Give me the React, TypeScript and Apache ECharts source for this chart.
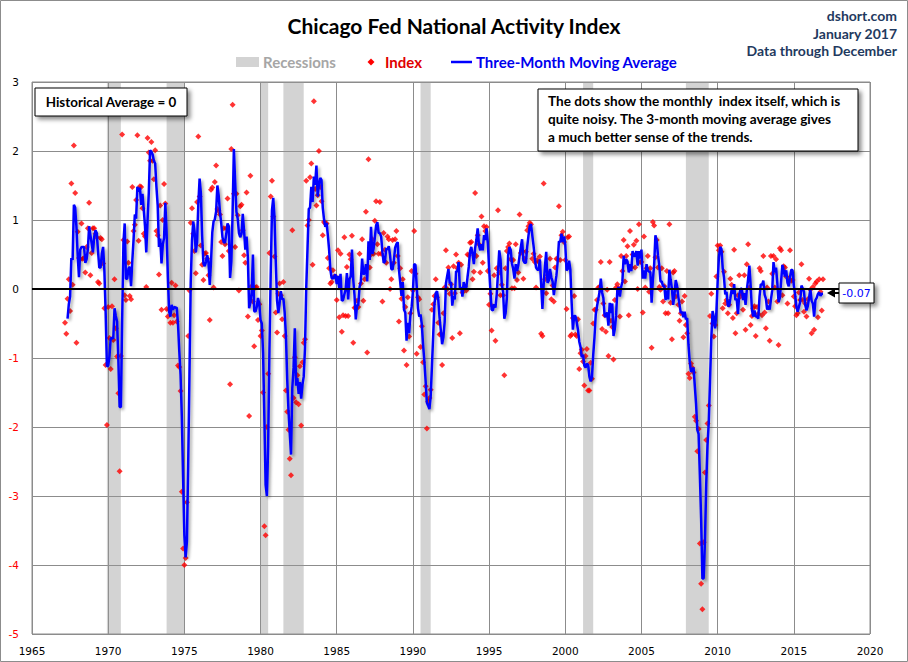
import React, { useEffect, useRef } from "react";
import * as echarts from "echarts";

// Monthly CFNAI index values. Series starts March 1967.
const START_YEAR = 1967;
const START_MONTH = 3;

const index1960s = [
  // 1967 (Mar-Dec)
  -0.49, -0.65, -0.14, 0.14, -0.32, 1.53, 0.06, 2.08, 1.39, -0.78,
  // 1968
  0.83, 0.45, 0.43, 0.95, 0.44, 0.45, 0.24, 0.61, 0.88, 1.25, 0.2, 0.52,
  // 1969
  0.88, 0.88, 0.8, 0.75, 0.1, 0.08, 0.74, 0.72, 0.37, -0.28, -1.1, -1.97,
];

const index1970s = [
  -0.26, -0.71, -1.16, -0.25, -0.74, 0.14, -0.57, -0.98, -1.51, -2.64, -0.97, 2.24,
  0.71, -0.09, -0.16, 0.69, 0.38, -0.1, -0.15, 1.48, 0.84, 0.93, 1.29, 2.23,
  0.7, 1.49, 1.48, 1.17, 0.8, 0.76, 0.03, 2.19, 1.98, 1.86, 2.13, 1.86,
  1.59, 2.01, 0.84, 0.78, 0.21, 1.21, -0.3, 1.0, 1.52, 1.24, -0.29, -0.4,
  -0.3, -0.49, 0.09, -0.49, -0.38, 0.05, -0.47, -1.11, -1.13, -1.48, -2.94, -3.76,
  -4.0, -3.9, -3.09, -0.68, -0.02, 0.96, 1.17, 0.8, 0.55, 0.23, 1.26, 2.21,
  1.34, 0.63, 0.35, 0.13, 0.51, 0.52, 0.44, 0.2, -0.45, 1.44, 1.47, 0.02,
  1.55, 1.79, 1.16, 1.13, 1.08, 0.68, 0.48, 0.88, 0.65, 0.88, 1.31, 0.55,
  -1.38, 2.03, 2.67, 1.38, 0.61, 1.38, 1.07, -0.02, 1.2, 1.22, 0.85, 0.49,
  0.38, 1.4, -0.4, -1.84, 1.64, 0.04, -0.18, -0.83, 0.02, 0.03, -0.45, -0.22,
];

const index1980s = [
  -0.68, -0.6, -1.5, -3.44, -3.57, -2.0, -1.23, 0.52, 1.34, 1.57, 1.05, 0.47,
  -0.34, -0.63, -0.07, 0.08, -0.09, -0.44, 0.1, -0.68, -1.47, -1.78, -2.04, -2.46,
  -2.7, 0.85, -1.58, -0.99, -1.64, -1.25, -1.67, -1.12, -1.98, -1.06, -0.78, -0.73,
  1.57, 0.92, 1.0, 1.62, 1.82, 0.35, 2.72, 1.45, 1.21, 1.36, 2.0, 1.48,
  1.27, 0.78, 0.97, 0.95, 0.95, 0.45, 0.3, 0.08, 0.1, 0.27, 0.18, 0.18,
  -0.16, 0.56, -0.41, 0.51, -0.62, -0.38, 0.75, -0.39, 0.32, -0.39, 0.5, 0.43,
  0.77, -0.78, -0.27, -0.27, -0.17, -0.26, 0.51, 0.08, 0.72, -0.17, 0.14, 1.12,
  -0.92, 1.88, 0.31, 0.5, 0.72, 0.51, 0.99, 1.27, 0.65, 0.51, 1.26, 0.51,
  -0.18, 0.81, 0.57, 0.38, 0.76, 0.72, 0.0, 0.14, 0.71, 0.38, 0.72, 0.84,
  0.48, -0.47, 0.3, -0.14, 0.14, -0.89, -0.26, -1.1, -0.12, -0.69, -0.35, 0.26,
];

const index1990s = [
  -0.02, 0.84, 0.22, -0.94, -0.12, -0.15, -0.84, -0.54, -1.06, -1.53, -1.41, -2.02,
  -1.63, -1.58, -1.46, -0.3, -0.22, -0.1, 0.14, -0.12, -0.49, -0.66, -0.65, -1.1,
  -0.35, 0.02, 0.56, 0.0, 0.31, -0.07, 0.07, -0.71, 0.33, -0.06, 0.5, 0.3,
  0.38, -0.64, 0.35, -0.05, 0.0, 0.04, -0.02, 0.5, 0.49, 0.67, 0.68, 0.14,
  0.25, 1.39, 0.48, 0.78, 0.65, 0.24, 1.05, 0.38, 0.91, 0.84, 0.9, 0.26,
  -0.23, -0.07, -0.6, -0.25, 0.2, -0.75, 0.3, 1.14, 0.24, -0.09, 0.06, -0.09,
  -1.25, 0.3, 0.55, 0.61, 0.66, 0.43, 0.01, 0.42, 0.01, 0.65, 0.13, 0.24,
  1.08, 0.52, 0.55, 0.15, 0.44, 0.54, 0.85, 0.91, 0.96, 0.94, 0.44, 0.51,
  0.39, 0.02, 0.42, 0.39, 0.47, -0.65, -0.68, 1.53, 0.14, -0.06, 0.2, 0.23,
  0.44, -0.15, 0.05, -0.18, 0.31, 0.44, 0.43, 1.2, 0.42, 0.78, 0.83, 0.68,
];

const index2000s = [
  0.42, -0.29, 0.75, 0.76, -0.68, -0.66, -0.42, -0.1, -0.66, -0.68, -0.44, -1.16,
  -0.93, -0.88, -1.05, -1.4, -0.97, -0.87, -1.47, -1.47, -1.07, -1.3, -0.5, -0.3,
  -0.3, -0.16, 0.02, 0.03, 0.39, -0.58, -0.21, -0.38, -0.62, -0.01, -0.97, 0.39,
  -0.46, -0.55, -1.02, -0.16, 0.02, 0.07, 0.01, -0.4, 0.48, 0.26, 0.71, 0.11,
  0.48, 0.62, -0.38, 0.84, 0.31, 0.5, 0.64, 0.31, 0.7, 0.0, 0.94, 0.39,
  0.39, -0.34, 0.76, 0.02, 0.3, 0.48, -0.04, 0.3, -0.85, 0.97, 0.92, 0.46,
  0.71, 0.31, 0.03, -0.01, 0.3, -0.18, 0.04, -0.35, 0.26, -0.35, 0.94, -0.2,
  -0.73, 0.24, 0.26, -0.11, 0.0, -0.23, -0.46, -0.35, -0.18, -0.7, -0.1, -0.52,
  -0.64, -1.23, -1.29, -1.08, -1.14, -1.21, -1.85, -1.91, -2.35, -2.03, -3.69, -4.27,
  -4.64, -3.67, -2.66, -2.19, -1.95, -1.69, -0.39, -0.07, -0.5, -0.69, -0.52, 0.18,
];

const index2010s = [
  0.63, 0.56, 0.63, 0.54, -0.28, 0.25, -0.21, -0.16, -0.35, -0.23, 0.15, 0.06,
  -0.42, 0.57, -0.64, -0.35, -0.09, 0.2, -0.11, -0.07, -0.3, 0.2, -0.59, 0.36,
  0.65, 0.02, -0.52, -0.39, -0.28, -0.25, -0.68, -0.26, -0.36, 0.3, 0.26, -0.38,
  0.48, -0.34, -0.57, 0.02, -0.18, -0.75, 0.48, 0.22, 0.48, 0.02, 0.43, -0.18,
  -0.81, 0.59, 0.56, -0.09, 0.33, 0.31, 0.18, -0.21, 0.15, 0.56, 0.12, 0.13,
  -0.11, -0.25, -0.38, -0.35, -0.05, -0.16, 0.36, -0.16, -0.33, -0.21, -0.4, -0.15,
  0.15, -0.01, -0.64, 0.03, -0.59, 0.08, 0.11, -0.41, 0.14, -0.04, -0.31, 0.14,
];

// NBER recessions as shaded in the picture (start month, end month)
const recessionStarts = ["1969-12", "1973-11", "1980-01", "1981-07", "1990-07", "2001-03", "2007-12"];
const recessionEnds = ["1970-11", "1975-01", "1980-07", "1982-11", "1991-03", "2001-11", "2009-06"];

const MA_WINDOW = 3;

const TEXT_FONT = "Lato, 'Open Sans', sans-serif";
const AXIS_FONT = "'DejaVu Sans', Verdana, sans-serif";

function monthToYear(s: string): number {
  const [y, m] = s.split("-").map(Number);
  return y + (m - 1) / 12;
}

export default function App() {
  const ref = useRef<HTMLDivElement>(null);

  useEffect(() => {
    document.body.style.margin = "0";
    const el = ref.current;
    if (!el) return;
    const chart = echarts.init(el, null, { renderer: "svg" });

    const values = [...index1960s, ...index1970s, ...index1980s, ...index1990s, ...index2000s, ...index2010s];
    const times = values.map((_, i) => START_YEAR + (START_MONTH - 1 + i) / 12);
    const indexData = values.map((v, i) => [times[i], v]);
    const maData = values.map((_, i) => {
      if (i < MA_WINDOW - 1) return [times[i], null];
      let s = 0;
      for (let k = i - MA_WINDOW + 1; k <= i; k++) s += values[k];
      return [times[i], Math.round((s / MA_WINDOW) * 100) / 100];
    });
    const lastMA = maData[maData.length - 1][1] as number;

    const recessionAreas = recessionStarts.map((s, i) => [
      { xAxis: monthToYear(s) },
      { xAxis: monthToYear(recessionEnds[i]) },
    ]);

    const boxShadow = {
      shadowColor: "rgba(0,0,0,0.45)",
      shadowBlur: 4,
      shadowOffsetX: 3,
      shadowOffsetY: 3,
    };

    const boxText = (text: string, x: number, y: number) => ({
      type: "text",
      x,
      y,
      z: 11,
      style: {
        text,
        fontFamily: TEXT_FONT,
        fontSize: 13.6,
        fontWeight: "bold",
        fill: "#000",
        align: "left",
        verticalAlign: "middle",
      },
    });

    const option: any = {
      animation: false,
      backgroundColor: "#ffffff",
      grid: {
        left: 32,
        top: 82,
        width: 838,
        height: 552,
        show: true,
        borderColor: "#8c8c8c",
        borderWidth: 1,
        backgroundColor: "transparent",
      },
      xAxis: {
        type: "value",
        min: 1965,
        max: 2020,
        interval: 5,
        axisLine: { show: false },
        axisTick: { show: false },
        splitLine: { show: true, lineStyle: { color: "#8c8c8c", width: 1 } },
        axisLabel: {
          color: "#000",
          fontFamily: AXIS_FONT,
          fontSize: 10.5,
          margin: 11,
          formatter: (v: number) => String(v),
        },
      },
      yAxis: {
        type: "value",
        min: -5,
        max: 3,
        interval: 1,
        axisLine: { show: false },
        axisTick: { show: false },
        splitLine: { show: true, lineStyle: { color: "#8c8c8c", width: 1 } },
        axisLabel: {
          color: (v: any) => (Number(v) < 0 ? "#ff0000" : "#000000"),
          fontFamily: AXIS_FONT,
          fontSize: 10.5,
          margin: 13,
          formatter: (v: number) => String(v),
        },
      },
      series: [
        {
          name: "Recessions",
          type: "line",
          data: [],
          z: 1,
          silent: true,
          markArea: {
            silent: true,
            itemStyle: { color: "rgba(150,150,150,0.42)" },
            data: recessionAreas,
          },
          markLine: {
            silent: true,
            symbol: ["none", "none"],
            label: { show: false },
            lineStyle: { color: "#000", width: 2, type: "solid" },
            data: [{ yAxis: 0 }],
          },
        },
        {
          name: "Index",
          type: "scatter",
          data: indexData,
          symbol: "diamond",
          symbolSize: 6,
          itemStyle: { color: "#ff0000" },
          z: 2,
          silent: true,
        },
        {
          name: "Three-Month Moving Average",
          type: "line",
          data: maData,
          showSymbol: false,
          connectNulls: false,
          z: 3,
          silent: true,
          lineStyle: {
            color: "#0000ff",
            width: 2.5,
            shadowColor: "rgba(0,0,0,0.35)",
            shadowBlur: 3,
            shadowOffsetX: 2,
            shadowOffsetY: 2,
          },
        },
      ],
      graphic: [
        {
          type: "rect",
          silent: true,
          shape: { x: 0.5, y: 0.5, width: 907, height: 661 },
          style: { fill: "none", stroke: "#8c8c8c", lineWidth: 1 },
        },
        {
          type: "text",
          x: 454,
          y: 25,
          style: {
            text: "Chicago Fed National Activity Index",
            fontFamily: TEXT_FONT,
            fontSize: 21,
            fontWeight: "bold",
            fill: "#000",
            align: "center",
            verticalAlign: "middle",
          },
        },
        {
          type: "text",
          x: 897,
          y: 15,
          style: { text: "dshort.com", fontFamily: TEXT_FONT, fontSize: 14, fontWeight: "bold", fill: "#1f3a60", align: "right", verticalAlign: "middle" },
        },
        {
          type: "text",
          x: 897,
          y: 33,
          style: { text: "January 2017", fontFamily: TEXT_FONT, fontSize: 14, fontWeight: "bold", fill: "#1f3a60", align: "right", verticalAlign: "middle" },
        },
        {
          type: "text",
          x: 897,
          y: 50,
          style: { text: "Data through December", fontFamily: TEXT_FONT, fontSize: 14, fontWeight: "bold", fill: "#1f3a60", align: "right", verticalAlign: "middle" },
        },
        // legend
        { type: "rect", shape: { x: 236, y: 57, width: 23, height: 10 }, style: { fill: "#d3d3d3" } },
        {
          type: "text",
          x: 263,
          y: 62,
          style: { text: "Recessions", fontFamily: TEXT_FONT, fontSize: 15, fontWeight: "bold", fill: "#a6a6a6", align: "left", verticalAlign: "middle" },
        },
        {
          type: "polygon",
          shape: { points: [[371, 58.5], [374.5, 62], [371, 65.5], [367.5, 62]] },
          style: { fill: "#ff0000" },
        },
        {
          type: "text",
          x: 385,
          y: 62,
          style: { text: "Index", fontFamily: TEXT_FONT, fontSize: 15, fontWeight: "bold", fill: "#e00000", align: "left", verticalAlign: "middle" },
        },
        {
          type: "line",
          shape: { x1: 451, y1: 62, x2: 472, y2: 62 },
          style: { stroke: "#0000ff", lineWidth: 2.5 },
        },
        {
          type: "text",
          x: 476,
          y: 62,
          style: { text: "Three-Month Moving Average", fontFamily: TEXT_FONT, fontSize: 15, fontWeight: "bold", fill: "#0000ee", align: "left", verticalAlign: "middle" },
        },
        // Historical average box
        {
          type: "rect",
          shape: { x: 35, y: 88, width: 152, height: 28 },
          style: { fill: "#ffffff", stroke: "#000", lineWidth: 1, ...boxShadow },
          z: 10,
        },
        {
          type: "text",
          x: 111,
          y: 102,
          z: 11,
          style: { text: "Historical Average = 0", fontFamily: TEXT_FONT, fontSize: 13.4, fontWeight: "bold", fill: "#000", align: "center", verticalAlign: "middle" },
        },
        // Explanation box
        {
          type: "rect",
          shape: { x: 538, y: 89, width: 320, height: 62 },
          style: { fill: "#ffffff", stroke: "#000", lineWidth: 1, ...boxShadow },
          z: 10,
        },
        boxText("The dots show the monthly  index itself, which is", 548, 101),
        boxText("quite noisy. The 3-month moving average gives", 548, 119),
        boxText("a much better sense of the trends.", 548, 137),
        // last value callout
        {
          type: "polygon",
          z: 10,
          shape: { points: [[827, 293], [835, 288.5], [835, 297.5]] },
          style: { fill: "#000" },
        },
        {
          type: "line",
          z: 10,
          shape: { x1: 834, y1: 293, x2: 839, y2: 293 },
          style: { stroke: "#000", lineWidth: 2 },
        },
        {
          type: "rect",
          z: 10,
          shape: { x: 839, y: 283, width: 35, height: 20 },
          style: { fill: "#ffffff", stroke: "#000", lineWidth: 1, ...boxShadow },
        },
        {
          type: "text",
          x: 856.5,
          y: 293.5,
          z: 11,
          style: { text: lastMA.toFixed(2), fontFamily: AXIS_FONT, fontSize: 11, fill: "#0000ff", align: "center", verticalAlign: "middle" },
        },
      ],
    };

    chart.setOption(option);
    return () => chart.dispose();
  }, []);

  return (
    <div
      ref={ref}
      style={{ position: "absolute", left: 0, top: 0, width: 908, height: 662, background: "#fff" }}
    />
  );
}
